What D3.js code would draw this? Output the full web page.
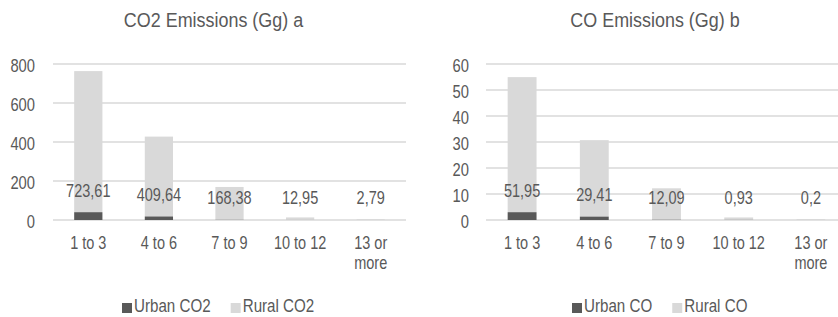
<!DOCTYPE html>
<html>
<head>
<meta charset="utf-8">
<script src="https://cdn.jsdelivr.net/npm/d3@7"></script>
<style>
  body { margin: 0; background: #fff; }
  text { font-family: "Liberation Sans", Arial, sans-serif; fill: #595959; }
</style>
</head>
<body>
<script>
var width = 838, height = 317;

var categories = ["1 to 3", "4 to 6", "7 to 9", "10 to 12", "13 or more"];
var urbanCO2 = [40, 18, 1, 0.3, 0.1];
var ruralCO2 = [723.61, 409.64, 168.38, 12.95, 2.79];
var urbanCO = [3.0, 1.3, 0.1, 0.05, 0.01];
var ruralCO = [51.95, 29.41, 12.09, 0.93, 0.2];
var ticksCO2 = [0, 200, 400, 600, 800];
var ticksCO = [0, 10, 20, 30, 40, 50, 60];

var urbanColour = "#595959", ruralColour = "#d9d9d9";
var narrow = 0.82; // squeeze Liberation Sans to look like Arial Narrow

var svg = d3.select("body").append("svg").attr("width", width).attr("height", height);

// text drawn at (x, y) and squeezed horizontally
function label(parent, x, y, size, anchor, squeeze) {
  return parent.append("text")
    .attr("transform", "translate(" + x + "," + y + ") scale(" + (squeeze || narrow) + ",1)")
    .attr("font-size", size).attr("text-anchor", anchor || "start");
}

function drawChart(opt) {
  var g = svg.append("g");
  var x = d3.scaleBand().domain(categories).range([opt.x0, opt.x1]).paddingInner(0.6).paddingOuter(0.3);
  var y = d3.scaleLinear().domain([0, d3.max(opt.ticks)]).range([220, 64]);

  // gridlines + y labels
  g.selectAll(".grid").data(opt.ticks).enter().append("line")
    .attr("x1", opt.gx0).attr("x2", opt.gx1)
    .attr("y1", function(d){ return y(d); }).attr("y2", function(d){ return y(d); })
    .attr("stroke", "#d9d9d9").attr("stroke-width", 1.3);
  opt.ticks.forEach(function(t){
    label(g, opt.labelX, y(t) + 7.5, 18, "end").text(t);
  });

  var rows = categories.map(function(c, i){ return {key: c, urban: opt.urban[i], rural: opt.rural[i]}; });

  g.selectAll(".rural").data(rows).enter().append("rect")
    .attr("x", function(d){ return x(d.key); })
    .attr("width", x.bandwidth())
    .attr("y", function(d){ return y(d.urban + d.rural); })
    .attr("height", function(d){ return y(d.urban) - y(d.urban + d.rural); })
    .attr("fill", ruralColour);
  g.selectAll(".urban").data(rows).enter().append("rect")
    .attr("x", function(d){ return x(d.key); })
    .attr("width", x.bandwidth())
    .attr("y", function(d){ return y(d.urban); })
    .attr("height", function(d){ return y(0) - y(d.urban); })
    .attr("fill", urbanColour);

  rows.forEach(function(d){
    var cx = x(d.key) + x.bandwidth() / 2;
    // data label (rural value)
    label(g, cx, y(d.urban) - 15.5, 17.7, "middle").text(String(d.rural).replace(".", ","));
    // category label, wrapped
    var t = label(g, cx, 249, 17.7, "middle");
    var parts = d.key == "13 or more" ? ["13 or", "more"] : [d.key];
    parts.forEach(function(p, j){
      t.append("tspan").attr("x", 0).attr("dy", j ? 20 : 0).text(p);
    });
  });

  // title
  label(g, opt.titleX, 26.5, 19.5, "middle", 0.92).text(opt.title);

  // legend
  var items = [{name: opt.names[0], c: urbanColour}, {name: opt.names[1], c: ruralColour}];
  var lx = opt.legendX;
  items.forEach(function(it){
    g.append("rect").attr("x", lx).attr("y", 303).attr("width", 10).attr("height", 10).attr("fill", it.c);
    var t = label(g, lx + 12, 312.3, 18.5, "start").text(it.name);
    lx += 12 + t.node().getComputedTextLength() * narrow + 20;
  });
}

drawChart({x0: 53, x1: 406, gx0: 53, gx1: 406, labelX: 35, ticks: ticksCO2,
  urban: urbanCO2, rural: ruralCO2, title: "CO2 Emissions (Gg) a", titleX: 213.5,
  names: ["Urban CO2", "Rural CO2"], legendX: 122});
drawChart({x0: 486, x1: 847, gx0: 486, gx1: 838, labelX: 469, ticks: ticksCO,
  urban: urbanCO, rural: ruralCO, title: "CO Emissions (Gg) b", titleX: 655,
  names: ["Urban CO", "Rural CO"], legendX: 572});
</script>
</body>
</html>
